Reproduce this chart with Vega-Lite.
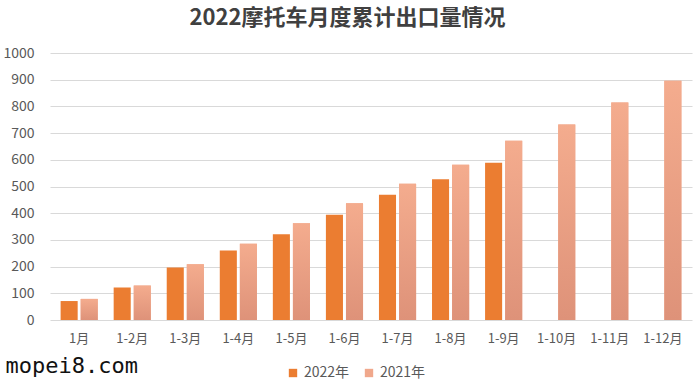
{
  "$schema": "https://vega.github.io/schema/vega-lite/v6.json",
  "width": 642,
  "height": 267,
  "autosize": {"type": "none"},
  "padding": {"left": 50, "top": 53, "right": 8, "bottom": 67},
  "background": "white",
  "config": {
    "view": {"stroke": null},
    "font": "Noto Sans CJK SC"
  },
  "title": {
    "text": "2022摩托车月度累计出口量情况",
    "fontSize": 22,
    "fontWeight": "bold",
    "color": "#404040",
    "font": "Noto Sans CJK SC",
    "anchor": "middle",
    "frame": "bounds",
    "offset": 16
  },
  "data": {
    "values": [
      {"period": "1月", "series": "2022年", "value": 71},
      {"period": "1月", "series": "2021年", "value": 79},
      {"period": "1-2月", "series": "2022年", "value": 122},
      {"period": "1-2月", "series": "2021年", "value": 129},
      {"period": "1-3月", "series": "2022年", "value": 197},
      {"period": "1-3月", "series": "2021年", "value": 209},
      {"period": "1-4月", "series": "2022年", "value": 260},
      {"period": "1-4月", "series": "2021年", "value": 286},
      {"period": "1-5月", "series": "2022年", "value": 321},
      {"period": "1-5月", "series": "2021年", "value": 362},
      {"period": "1-6月", "series": "2022年", "value": 394},
      {"period": "1-6月", "series": "2021年", "value": 437},
      {"period": "1-7月", "series": "2022年", "value": 469},
      {"period": "1-7月", "series": "2021年", "value": 510},
      {"period": "1-8月", "series": "2022年", "value": 527},
      {"period": "1-8月", "series": "2021年", "value": 581},
      {"period": "1-9月", "series": "2022年", "value": 589},
      {"period": "1-9月", "series": "2021年", "value": 671},
      {"period": "1-10月", "series": "2021年", "value": 732},
      {"period": "1-11月", "series": "2021年", "value": 815},
      {"period": "1-12月", "series": "2021年", "value": 896}
    ]
  },
  "encoding": {
    "x": {
      "field": "period",
      "type": "nominal",
      "sort": ["1月","1-2月","1-3月","1-4月","1-5月","1-6月","1-7月","1-8月","1-9月","1-10月","1-11月","1-12月"],
      "scale": {"paddingInner": 0.3, "paddingOuter": 0.2},
      "axis": {
        "title": "mopei8.com",
        "titleFont": "DejaVu Sans Mono",
        "titleFontSize": 22,
        "titleFontWeight": "normal",
        "titleColor": "#111111",
        "titleAnchor": "start",
        "titleAlign": "left",
        "titleBaseline": "middle",
        "titleX": -45,
        "titleY": 45,
        "labelAngle": 0,
        "labelFontSize": 13,
        "labelColor": "#595959",
        "labelPadding": 12,
        "ticks": false,
        "domain": false,
        "grid": false
      }
    },
    "xOffset": {
      "field": "series",
      "type": "nominal",
      "scale": {"domain": ["2022年", "2021年"], "paddingInner": 0.15}
    },
    "y": {
      "field": "value",
      "type": "quantitative",
      "scale": {"domain": [0, 1000]},
      "axis": {
        "title": null,
        "values": [0,100,200,300,400,500,600,700,800,900,1000],
        "format": "d",
        "labelFontSize": 14,
        "labelColor": "#595959",
        "labelPadding": 16,
        "ticks": false,
        "domain": false,
        "gridColor": "#D9D9D9",
        "gridWidth": 1
      }
    }
  },
  "layer": [
    {
      "mark": {"type": "bar"},
      "encoding": {
        "color": {
          "field": "series",
          "type": "nominal",
          "scale": {"domain": ["2022年", "2021年"], "range": ["#EB7D31", "#F0A88C"]},
          "legend": {
            "title": null,
            "orient": "none",
            "direction": "horizontal",
            "legendX": 236,
            "legendY": 313,
            "symbolType": "square",
            "symbolSize": 70,
            "symbolStrokeWidth": 0,
            "labelFontSize": 14,
            "labelColor": "#595959",
            "labelOffset": 4,
            "columnPadding": 12
          }
        }
      }
    },
    {
      "transform": [{"filter": "datum.series === '2021年'"}],
      "mark": {
        "type": "bar",
        "color": {
          "gradient": "linear",
          "x1": 0, "y1": 0, "x2": 0, "y2": 1,
          "stops": [
            {"offset": 0, "color": "#F4AC8E"},
            {"offset": 1, "color": "#DE9279"}
          ]
        }
      }
    }
  ]
}
